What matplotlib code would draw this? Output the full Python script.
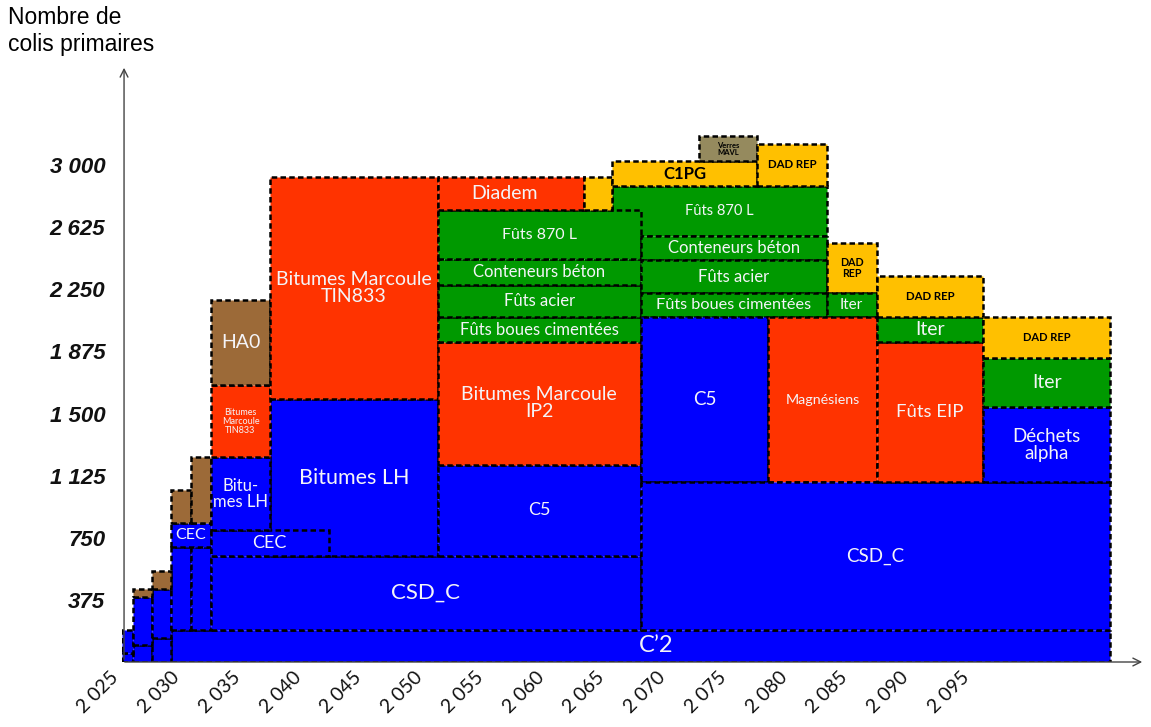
import matplotlib.pyplot as plt
from matplotlib.transforms import ScaledTranslation

# colis primaires : one block per family, drawn in this order (later ones on top)
block_label = [
    "C\u20192", "", "", "",
    "", "", "", "", "",
    "CEC", "", "", "", "",
    "CSD_C", "Bitumes LH", "CEC", "Bitu-\nmes LH", "Bitumes\nMarcoule\nTIN833", "HA0",
    "Bitumes Marcoule\nTIN833",
    "C5", "Bitumes Marcoule\nIP2",
    "Fûts 870 L",
    "Fûts boues cimentées", "Fûts acier", "Conteneurs béton", "Fûts 870 L",
    "Diadem", "",
    "C1PG", "Verres\nMAVL", "DAD REP",
    "Conteneurs béton", "Fûts acier", "Fûts boues cimentées",
    "DAD\nREP", "Iter",
    "C5", "Magnésiens", "CSD_C",
    "Fûts EIP", "Iter", "DAD REP",
    "Déchets\nalpha", "Iter", "DAD REP",
]
block_kind = [
    "bleu", "bleu", "bleu", "bleu",
    "bleu", "bleu", "bleu", "bleu", "bleu",
    "bleu", "brun", "brun", "brun", "brun",
    "bleu", "bleu", "bleu", "bleu", "rouge", "brun",
    "rouge",
    "bleu", "rouge",
    "vert",
    "vert", "vert", "vert", "vert",
    "rouge", "jaune",
    "jaune", "gris", "jaune",
    "vert", "vert", "vert",
    "jaune", "vert",
    "bleu", "rouge", "bleu",
    "rouge", "vert", "jaune",
    "bleu", "vert", "jaune",
]
block_start = [
    2029.0, 2025.0, 2025.9, 2027.5,
    2025.0, 2025.9, 2027.5, 2029.0, 2030.7,
    2029.0, 2025.9, 2027.5, 2029.0, 2030.7,
    2032.3, 2037.2, 2032.3, 2032.3, 2032.3, 2032.3,
    2037.2,
    2051.0, 2051.0,
    2065.3,
    2051.0, 2051.0, 2051.0, 2051.0,
    2051.0, 2063.0,
    2065.3, 2072.5, 2077.3,
    2067.7, 2067.7, 2067.7,
    2083.0, 2083.0,
    2067.7, 2078.2, 2067.7,
    2087.1, 2087.1, 2087.1,
    2095.9, 2095.9, 2095.9,
]
block_end = [
    2106.3, 2025.9, 2027.5, 2029.0,
    2025.9, 2027.5, 2029.0, 2030.7, 2032.3,
    2032.3, 2027.5, 2029.0, 2030.7, 2032.3,
    2067.7, 2051.0, 2042.0, 2037.2, 2037.2, 2037.2,
    2051.0,
    2067.7, 2067.7,
    2083.0,
    2067.7, 2067.7, 2067.7, 2067.7,
    2063.0, 2065.3,
    2077.3, 2077.3, 2083.0,
    2083.0, 2083.0, 2083.0,
    2087.1, 2087.1,
    2078.2, 2087.1, 2106.3,
    2095.9, 2095.9, 2095.9,
    2106.3, 2106.3, 2106.3,
]
block_bottom = [
    0, 0, 0, 0,
    54, 103, 145, 195, 195,
    694, 392, 441, 839, 839,
    195, 640, 640, 797, 1237, 1672,
    1587,
    640, 1189,
    2571,
    1932, 2080, 2276, 2432,
    2728, 2728,
    2873, 3024, 2873,
    2426, 2227, 2080,
    2227, 2080,
    1086, 1086, 195,
    1086, 1932, 2080,
    1086, 1539, 1835,
]
block_top = [
    195, 54, 103, 145,
    195, 392, 441, 694, 694,
    839, 441, 549, 1038, 1237,
    640, 1587, 797, 1237, 1672, 2185,
    2927,
    1189, 1932,
    2873,
    2080, 2276, 2432, 2728,
    2927, 2927,
    3024, 3175, 3127,
    2571, 2426, 2227,
    2529, 2227,
    2080, 2080, 1086,
    1932, 2080, 2330,
    1539, 1835, 2080,
]

year_ticks = [2025, 2030, 2035, 2040, 2045, 2050, 2055, 2060,
              2065, 2070, 2075, 2080, 2085, 2090, 2095]
count_ticks = [375, 750, 1125, 1500, 1875, 2250, 2625, 3000]

# styles
colors = {"bleu": "#0000FF", "rouge": "#FF3300", "vert": "#009900",
          "jaune": "#FFC000", "brun": "#9C6A38", "gris": "#958A5E"}
dark_text = {"jaune", "gris"}
label_size = [
    17, 0, 0, 0,
    0, 0, 0, 0, 0,
    11.5, 0, 0, 0, 0,
    16, 15.5, 13, 12, 6.5, 14,
    14,
    13, 14,
    10.5,
    12, 12, 12, 11.5,
    14, 0,
    12, 5.5, 8.2,
    12, 12, 11.7,
    7.7, 11,
    13.5, 10.3, 13.5,
    13.3, 14, 8.2,
    13.5, 14, 8,
]
label_bold = {"C1PG", "DAD REP", "DAD\nREP", "Verres\nMAVL"}
label_x_override = {0: 2069.0, 28: 2056.5}

fig = plt.figure(figsize=(11.51, 7.27), dpi=100)
ax = fig.add_axes([122 / 1151, 65 / 727, 1023 / 1151, 597 / 727])

for i in range(len(block_label)):
    ax.bar(block_start[i], block_top[i] - block_bottom[i],
           width=block_end[i] - block_start[i], bottom=block_bottom[i],
           align="edge", color=colors[block_kind[i]], edgecolor="black",
           linewidth=1.8, linestyle=(0, (2.2, 1.3)), zorder=2)
    if block_label[i]:
        cx = label_x_override.get(i, (block_start[i] + block_end[i]) / 2)
        cy = (block_bottom[i] + block_top[i]) / 2
        tc = "black" if block_kind[i] in dark_text else "#F4F4F8"
        ax.text(cx, cy, block_label[i], ha="center", va="center",
                multialignment="center", color=tc, fontsize=label_size[i],
                family="Lato",
                fontweight="bold" if block_label[i] in label_bold else "normal",
                linespacing=1.0, zorder=3)

ax.set_xlim(2025, 2025 + 1023 / 12.15)
ax.set_ylim(0, 597 * 3000 / 497)

for s in ax.spines.values():
    s.set_visible(False)

ax.annotate("", xy=(0.002, 1), xytext=(0.002, 0), xycoords="axes fraction",
            arrowprops=dict(arrowstyle="->", color="#444444", lw=1.0,
                            mutation_scale=14))
ax.annotate("", xy=(1, 0), xytext=(0, 0), xycoords="axes fraction",
            arrowprops=dict(arrowstyle="->", color="#444444", lw=1.0,
                            mutation_scale=14))

ax.set_yticks(count_ticks)
ax.set_yticklabels([f"{v:,}".replace(",", " ") for v in count_ticks],
                   fontsize=16, style="italic", fontweight="bold",
                   family="Liberation Sans", color="#111111")
ax.set_xticks(year_ticks)
ax.set_xticklabels([f"{v:,}".replace(",", " ") for v in year_ticks],
                   fontsize=14, family="Lato", rotation=45, ha="right",
                   va="top", rotation_mode="anchor", color="#111111")
ax.tick_params(axis="both", length=0)
ax.tick_params(axis="y", pad=12)
ax.tick_params(axis="x", pad=5)
shift = ScaledTranslation(-12 / 100, 0, fig.dpi_scale_trans)
for lbl in ax.get_xticklabels():
    lbl.set_transform(lbl.get_transform() + shift)

fig.text(8 / 1151, 1 - 6 / 727, "Nombre de\ncolis primaires", ha="left",
         va="top", fontsize=16.5, family="Liberation Sans", linespacing=1.2)

fig.savefig("out.png", dpi=100)
